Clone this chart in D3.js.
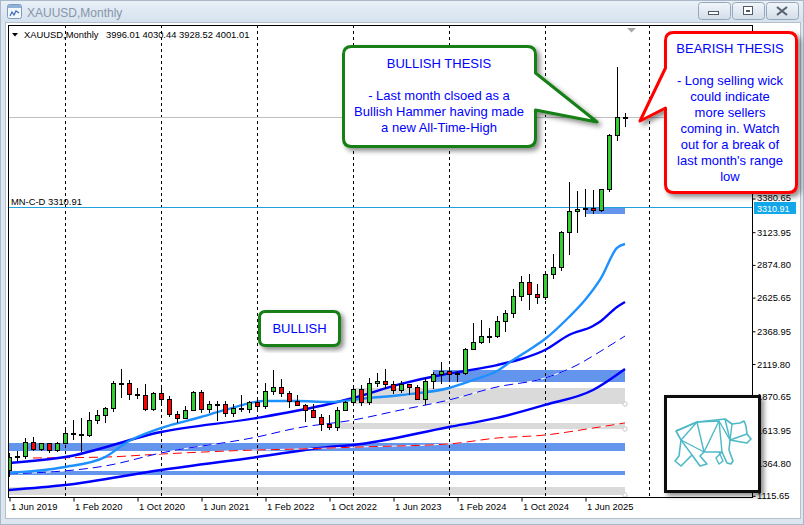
<!DOCTYPE html>
<html>
<head>
<meta charset="utf-8">
<script src="https://cdn.jsdelivr.net/npm/d3@7"></script>
<style>
html, body { margin: 0; padding: 0; background: #dce6f1; }
svg { display: block; font-family: "Liberation Sans", Arial, sans-serif; }
</style>
</head>
<body>
<svg id="svg1" width="804" height="525"></svg>
<script>
// ---- data (monthly XAUUSD, Jun 2019 .. Nov 2025) ----
const symbolName = "XAUUSD,Monthly";
const lastBar = [3996.01, 4030.44, 3928.52, 4001.01];

const openP = [1305,1409,1413,1520,1472,1512,1464,
  1517,1589,1585,1577,1687,1730,1781,1975,1968,1886,1879,1776,
  1898,1847,1734,1708,1769,1906,1770,1814,1813,1742,1783,1774,
  1829,1796,1909,1937,1896,1837,1807,1766,1711,1660,1633,1768,
  1824,1928,1826,1969,1990,1963,1919,1965,1940,1849,1983,2036,
  2063,2039,2044,2230,2286,2327,2326,2447,2503,2634,2744,2650,
  2624,2798,2857,3124,3285,3300,3303,3290,3448,3858,3996.01];
const highP = [1439,1452,1555,1557,1517,1516,1525,
  1611,1689,1704,1747,1765,1789,1984,2075,1992,1933,1966,1905,
  1959,1871,1755,1798,1913,1916,1832,1834,1834,1814,1877,1831,
  1853,1974,2070,1998,1909,1879,1814,1808,1735,1730,1786,1833,
  1949,1959,2009,2048,2079,1983,1987,1966,1953,2009,2052,2135,
  2088,2065,2236,2431,2450,2387,2483,2531,2685,2790,2801,2726,
  2817,2956,3128,3500,3435,3452,3439,3453,3871,4381,4030.44];
const lowP = [1266,1382,1400,1459,1459,1445,1455,
  1517,1548,1451,1567,1670,1671,1757,1863,1848,1860,1764,1765,
  1802,1717,1677,1706,1765,1750,1750,1688,1721,1722,1758,1753,
  1780,1780,1890,1872,1787,1805,1681,1709,1615,1617,1616,1765,
  1823,1805,1809,1949,1932,1893,1903,1885,1846,1810,1931,1973,
  2002,1984,2039,2229,2277,2286,2319,2364,2471,2603,2536,2583,
  2614,2772,2832,2957,3121,3247,3268,3281,3436,3825,3928.52];
const closeP = [1409,1413,1520,1472,1512,1464,1517,
  1589,1585,1577,1687,1730,1781,1975,1968,1886,1879,1776,1898,
  1847,1734,1708,1769,1906,1770,1814,1813,1742,1783,1774,1829,
  1796,1909,1937,1896,1837,1807,1766,1711,1660,1633,1768,1824,
  1928,1826,1969,1990,1963,1919,1965,1940,1849,1983,2036,2063,
  2039,2044,2230,2286,2327,2326,2447,2503,2634,2744,2650,2624,
  2798,2857,3124,3285,3300,3303,3290,3448,3858,4000,4001.01];

// moving averages: month index -> price
const ma1Months = [0,7,12,15,19,24,27,32,36,40,45,49,55,58,61,63,65,67,70,72,74,76,77];
const ma1Values = [1286,1331,1407,1529,1628,1712,1766,1834,1834,1827,1857,1880,1933,1994,2063,2146,2223,2306,2474,2604,2771,3000,3030];
const ma2Months = [0,7,19,31,40,43,49,54,57,61,64,67,70,73,74,76,77];
const ma2Values = [1362,1407,1598,1705,1811,1857,1964,2032,2063,2108,2154,2223,2337,2406,2444,2550,2588];
const ma3Months = [0,12,19,31,36,43,49,55,61,67,71,74,77];
const ma3Values = [1278,1339,1438,1560,1628,1689,1766,1842,1941,2009,2108,2215,2329];
const ma4Months = [0,7,19,31,40,43,55,61,67,73,77];
const ma4Values = [1156,1194,1308,1407,1484,1499,1636,1705,1804,1918,2078];
const ma5Months = [3,12,19,31,36,44,55,61,67,73,77];
const ma5Values = [1400,1407,1430,1461,1468,1484,1507,1552,1575,1628,1667];

// support / resistance zones
const zoneTop    = [3310.91, 2070, 1933, 1667, 1512, 1301, 1179];
const zoneBottom = [3257, 1979, 1811, 1623, 1456, 1270, 1118];
const zoneStart  = [72, 53, 43, 41, -2, -2, -2];
const zoneEnd    = [77, 77, 77, 77, 77, 77, 77];
const zoneKind   = ["blue", "blue", "gray", "gray", "blue", "blue", "gray"];

const levelName = "MN-C-D";
const levelPrice = 3310.91;

const separatorMonths = [7, 19, 31, 43, 55, 67, 80];
const timeTickMonths = [0, 8, 16, 24, 32, 40, 48, 56, 64, 72];
const timeTickLabels = ["1 Jun 2019","1 Feb 2020","1 Oct 2020","1 Jun 2021","1 Feb 2022",
  "1 Oct 2022","1 Jun 2023","1 Feb 2024","1 Oct 2024","1 Jun 2025"];
// price labels that are not hidden behind the red callout
const priceTicks = [3380.65,3123.95,2874.80,2625.65,2368.95,2119.80,1870.65,1613.95,1364.80,1115.65];

const bullishLines = ["BULLISH THESIS", "", "- Last month clsoed as a", "Bullish Hammer having made", "a new All-Time-High"];
const bearishLines = ["BEARISH THESIS", "", "- Long selling wick", "could indicate", "more sellers",
  "coming in. Watch", "out for a break of", "last month's range", "low"];
const smallLabel = "BULLISH";

// ---- drawing ----
const svg = d3.select("#svg1");
const plot = { left: 8, right: 752, top: 25, bottom: 497 };
const font = "'Liberation Sans', Arial, sans-serif";

const x = d3.scaleLinear().domain([0, 77]).range([9, 625]);
const y = d3.scaleLinear().domain([1115.65, 3123.95]).range([495.3, 231.7]);
const py = v => Math.round(y(v));

const defs = svg.append("defs");
defs.append("clipPath").attr("id", "plotClip").append("rect")
  .attr("x", plot.left).attr("y", plot.top)
  .attr("width", plot.right - plot.left).attr("height", plot.bottom - plot.top);
const sh = defs.append("filter").attr("id", "shadow")
  .attr("x", "-10%").attr("y", "-10%").attr("width", "130%").attr("height", "130%");
sh.append("feDropShadow").attr("dx", 3).attr("dy", 3).attr("stdDeviation", 2.5)
  .attr("flood-color", "#000").attr("flood-opacity", 0.45);
const tg = defs.append("linearGradient").attr("id", "titleGrad").attr("x1", 0).attr("x2", 0).attr("y1", 0).attr("y2", 1);
tg.append("stop").attr("offset", "0%").attr("stop-color", "#e9f0f8");
tg.append("stop").attr("offset", "100%").attr("stop-color", "#d6e2ef");
const bg = defs.append("linearGradient").attr("id", "btnGrad").attr("x1", 0).attr("x2", 0).attr("y1", 0).attr("y2", 1);
bg.append("stop").attr("offset", "0%").attr("stop-color", "#f2f6fb");
bg.append("stop").attr("offset", "100%").attr("stop-color", "#d3dde9");

// window chrome
svg.append("rect").attr("x", 0).attr("y", 0).attr("width", 804).attr("height", 525).attr("fill", "#dce6f1");
svg.append("rect").attr("x", 0).attr("y", 0).attr("width", 804).attr("height", 22).attr("fill", "url(#titleGrad)");
svg.append("rect").attr("x", 0.5).attr("y", 0.5).attr("width", 803).attr("height", 524)
  .attr("fill", "none").attr("stroke", "#aab8c8");
const icon = svg.append("g").attr("transform", "translate(7,4)");
icon.append("rect").attr("x", 0.5).attr("y", 0.5).attr("width", 14).attr("height", 14).attr("rx", 2)
  .attr("fill", "#f3f7fc").attr("stroke", "#7d9cc4");
icon.append("rect").attr("x", 1).attr("y", 1).attr("width", 13).attr("height", 3).attr("fill", "#8fb0d8");
icon.append("path").attr("d", "M3,12 L5,8 L7,11 L9,7 L12,9").attr("fill", "none").attr("stroke", "#3b6db3").attr("stroke-width", 1.2);
svg.append("text").attr("x", 27).attr("y", 17).attr("font-size", 12).attr("font-family", font)
  .attr("fill", "#8795a6").text(symbolName);

const btnX = [698, 732, 766];
btnX.forEach((bx, i) => {
  svg.append("rect").attr("x", bx + 0.5).attr("y", 2.5).attr("width", 32).attr("height", 17).attr("rx", 3)
    .attr("fill", "url(#btnGrad)").attr("stroke", "#97a7ba");
  const cx = bx + 16, cy = 11;
  if (i === 0) {
    svg.append("rect").attr("x", cx - 5.5).attr("y", cy + 0.5).attr("width", 10).attr("height", 3)
      .attr("fill", "#fff").attr("stroke", "#4e5866");
  } else if (i === 1) {
    svg.append("rect").attr("x", cx - 4.5).attr("y", cy - 4.5).attr("width", 9).attr("height", 8)
      .attr("fill", "#fff").attr("stroke", "#4e5866");
    svg.append("rect").attr("x", cx - 2).attr("y", cy - 1).attr("width", 4).attr("height", 2).attr("fill", "#4e5866");
  } else {
    svg.append("path").attr("d", `M${cx-5},${cy-4} L${cx+5},${cy+4} M${cx+5},${cy-4} L${cx-5},${cy+4}`)
      .attr("stroke", "#59636f").attr("stroke-width", 2.2);
  }
});

// chart panel
svg.append("rect").attr("x", 5.5).attr("y", 22.5).attr("width", 795).attr("height", 496)
  .attr("fill", "#fff").attr("stroke", "#b4bfcb");

const chart = svg.append("g").attr("clip-path", "url(#plotClip)");

// zones
chart.selectAll("rect.zone").data(zoneTop.map((t, i) => i)).join("rect")
  .attr("class", "zone")
  .attr("x", i => Math.round(x(zoneStart[i])))
  .attr("y", i => py(zoneTop[i]))
  .attr("width", i => Math.round(x(zoneEnd[i])) - Math.round(x(zoneStart[i])))
  .attr("height", i => py(zoneBottom[i]) - py(zoneTop[i]))
  .attr("fill", i => zoneKind[i] === "blue" ? "#6495ed" : "#dadada");
chart.selectAll("circle.anchor").data(zoneTop.map((t, i) => i).filter(i => zoneKind[i] === "gray")).join("circle")
  .attr("class", "anchor")
  .attr("cx", i => x(zoneEnd[i])).attr("cy", i => py(zoneBottom[i]))
  .attr("r", 2.2).attr("fill", "#fff").attr("stroke", "#c8c8c8");

// period separators
chart.selectAll("line.sep").data(separatorMonths).join("line")
  .attr("class", "sep")
  .attr("x1", d => x(d) + 0.5).attr("x2", d => x(d) + 0.5)
  .attr("y1", plot.top).attr("y2", plot.bottom)
  .attr("stroke", "#000").attr("stroke-dasharray", "3,3");

// moving averages
const maLine = d3.line().x(d => x(d[0])).y(d => y(d[1])).curve(d3.curveMonotoneX);
const zipMA = (m, v) => m.map((mm, i) => [mm, v[i]]);
const maDefs = [
  { data: zipMA(ma4Months, ma4Values), color: "#0000ff", w: 2.4, dash: null },
  { data: zipMA(ma5Months, ma5Values), color: "#ff0000", w: 1, dash: "9,5" },
  { data: zipMA(ma3Months, ma3Values), color: "#0000ff", w: 1, dash: "9,5" },
  { data: zipMA(ma2Months, ma2Values), color: "#0000ff", w: 2.4, dash: null },
  { data: zipMA(ma1Months, ma1Values), color: "#1e90ff", w: 2.4, dash: null }
];
maDefs.forEach(m => {
  if (m.dash) {
    chart.append("path").attr("d", maLine(m.data)).attr("fill", "none")
      .attr("stroke", "#fff").attr("stroke-width", 1);
  }
  chart.append("path").attr("d", maLine(m.data)).attr("fill", "none")
    .attr("stroke", m.color).attr("stroke-width", m.w)
    .attr("stroke-dasharray", m.dash);
});

// horizontal lines
chart.append("line").attr("x1", plot.left).attr("x2", plot.right)
  .attr("y1", py(lastBar[3]) + 0.5).attr("y2", py(lastBar[3]) + 0.5)
  .attr("stroke", "#c0c0c0");
chart.append("line").attr("x1", plot.left).attr("x2", plot.right)
  .attr("y1", py(levelPrice) + 0.5).attr("y2", py(levelPrice) + 0.5)
  .attr("stroke", "#22a2dc");
svg.append("text").attr("x", 11).attr("y", py(levelPrice) - 2.5)
  .attr("font-size", 9.4).attr("font-family", font).attr("fill", "#000")
  .text(levelName + " " + d3.format(".2f")(levelPrice));

// candles
const candles = openP.map((o, i) => ({ i, o, h: highP[i], l: lowP[i], c: closeP[i] }));
const cg = chart.append("g");
cg.selectAll("line.wick").data(candles).join("line")
  .attr("class", "wick")
  .attr("x1", d => x(d.i) + 0.5).attr("x2", d => x(d.i) + 0.5)
  .attr("y1", d => py(d.h)).attr("y2", d => py(d.l) + 1)
  .attr("stroke", "#000");
cg.selectAll("rect.body").data(candles).join("rect")
  .attr("class", "body")
  .attr("x", d => x(d.i) - 1.5)
  .attr("y", d => py(Math.max(d.o, d.c)) + 0.5)
  .attr("width", 4)
  .attr("height", d => Math.max(1, py(Math.min(d.o, d.c)) - py(Math.max(d.o, d.c))))
  .attr("fill", d => d.c >= d.o ? "#32cd32" : "#ff0000")
  .attr("stroke", "#000");

// plot frame
svg.append("rect").attr("x", plot.left + 0.5).attr("y", plot.top + 0.5)
  .attr("width", plot.right - plot.left).attr("height", plot.bottom - plot.top)
  .attr("fill", "none").attr("stroke", "#000");

// axes
const xAxis = d3.axisBottom(x).tickValues(timeTickMonths)
  .tickFormat((d, i) => timeTickLabels[i]).tickSize(4).tickSizeOuter(0);
const gx = svg.append("g").attr("transform", `translate(0.5,${plot.bottom + 0.5})`).call(xAxis);
gx.select(".domain").remove();
gx.selectAll("text").attr("text-anchor", "start").attr("x", 1).attr("y", 6).attr("dy", "0.71em")
  .attr("font-size", 9.4).attr("font-family", font).attr("fill", "#000");

const yAxis = d3.axisRight(y).tickValues(priceTicks).tickFormat(d3.format(".2f")).tickSize(3).tickSizeOuter(0);
const gy = svg.append("g").attr("transform", `translate(${plot.right + 0.5},0.5)`).call(yAxis);
gy.select(".domain").remove();
gy.selectAll("text").attr("x", 4.5).attr("font-size", 9.4).attr("font-family", font).attr("fill", "#000");
// the top label sits tight against the price tag below it
gy.selectAll("text").filter(d => d === priceTicks[0]).attr("dy", "0.2em");

// level price tag on axis
const tagY = py(levelPrice);
svg.append("rect").attr("x", plot.right + 2).attr("y", tagY - 5).attr("width", 42).attr("height", 12).attr("fill", "#12a7ea");
svg.append("text").attr("x", plot.right + 5).attr("y", tagY + 4.5)
  .attr("font-size", 9).attr("font-family", font).attr("fill", "#fff")
  .text(d3.format(".2f")(levelPrice));

// header
svg.append("path").attr("d", "M12,33 L18,33 L15,36.5 Z").attr("fill", "#000");
svg.append("text").attr("x", 24).attr("y", 38).attr("font-size", 9.4).attr("font-family", font)
  .text(symbolName);
svg.append("text").attr("x", 106).attr("y", 38).attr("font-size", 9.4).attr("font-family", font)
  .text(lastBar.map(d3.format(".2f")).join(" "));
// chart shift marker
svg.append("path").attr("d", "M627,28 L636,28 L631.5,32.5 Z").attr("fill", "#a8a8a8");

// callouts
function callout(x0, y0, x1, y1, r, side, b0, b1, tx, ty) {
  let p = `M${x0 + r},${y0} H${x1 - r} Q${x1},${y0} ${x1},${y0 + r} `;
  if (side === "right") p += `V${b0} L${tx},${ty} L${x1},${b1} `;
  p += `V${y1 - r} Q${x1},${y1} ${x1 - r},${y1} H${x0 + r} Q${x0},${y1} ${x0},${y1 - r} `;
  if (side === "left") p += `V${b1} L${tx},${ty} L${x0},${b0} `;
  p += `V${y0 + r} Q${x0},${y0} ${x0 + r},${y0} Z`;
  return p;
}
svg.append("path").attr("d", callout(343.5, 46.5, 535.5, 146.5, 8, "right", 73, 110, 597, 122))
  .attr("fill", "#fff").attr("stroke", "#137f13").attr("stroke-width", 3)
  .attr("stroke-linejoin", "round").attr("filter", "url(#shadow)");
svg.append("g").selectAll("text").data(bullishLines).join("text")
  .attr("x", 439).attr("y", (d, i) => 67.5 + i * 16.2)
  .attr("text-anchor", "middle").attr("font-size", 13).attr("font-family", font)
  .attr("fill", "#0000ff").text(d => d);

svg.append("path").attr("d", callout(665.5, 32.5, 796.5, 192.5, 8, "left", 68, 108, 640, 121))
  .attr("fill", "#fff").attr("stroke", "#ff0000").attr("stroke-width", 3)
  .attr("stroke-linejoin", "round").attr("filter", "url(#shadow)");
svg.append("g").selectAll("text").data(bearishLines).join("text")
  .attr("x", 730).attr("y", (d, i) => 52.5 + i * 16.1)
  .attr("text-anchor", "middle").attr("font-size", 13).attr("font-family", font)
  .attr("fill", "#0000ff").text(d => d);

svg.append("path").attr("d", callout(259.5, 311.5, 339.5, 345.5, 6, "none"))
  .attr("fill", "#fff").attr("stroke", "#137f13").attr("stroke-width", 3)
  .attr("filter", "url(#shadow)");
svg.append("text").attr("x", 299.5).attr("y", 332.5).attr("text-anchor", "middle")
  .attr("font-size", 13).attr("font-family", font).attr("fill", "#0000ff").text(smallLabel);

// bear logo box
const logo = svg.append("g").attr("transform", "translate(664,395)");
logo.append("rect").attr("x", 1.5).attr("y", 1.5).attr("width", 94).attr("height", 95)
  .attr("fill", "#fff").attr("stroke", "#111").attr("stroke-width", 3).attr("filter", "url(#shadow)");
const bearOutline = [[17,34],[33,27],[61,24],[68,29],[76,28],[80,26],[82,31],[83,39],[87,44],[83,48],
  [77,47],[66,45],[65,55],[69,66],[67,69],[63,68],[58,57],[40,57],[36,61],[43,69],[36,71],[28,60],
  [22,66],[17,71],[11,66],[15,61],[17,45],[12,36],[17,34]];
const bearInner = [
  [[33,27],[40,57]], [[33,27],[17,45]], [[17,45],[28,60]], [[33,27],[55,26],[58,57]],
  [[55,26],[66,45]], [[61,24],[66,45]], [[66,45],[83,39]], [[68,29],[66,45]],
  [[40,57],[55,26]], [[17,45],[40,57]], [[55,57],[59,66],[55,69],[52,63],[58,57]],
  [[12,36],[33,27]]
];
const bearLine = d3.line();
logo.append("path").attr("d", bearLine(bearOutline)).attr("fill", "none")
  .attr("stroke", "#4db9c6").attr("stroke-width", 1.6).attr("stroke-linejoin", "round");
bearInner.forEach(seg => logo.append("path").attr("d", bearLine(seg)).attr("fill", "none")
  .attr("stroke", "#4db9c6").attr("stroke-width", 1.4));
</script>
</body>
</html>
